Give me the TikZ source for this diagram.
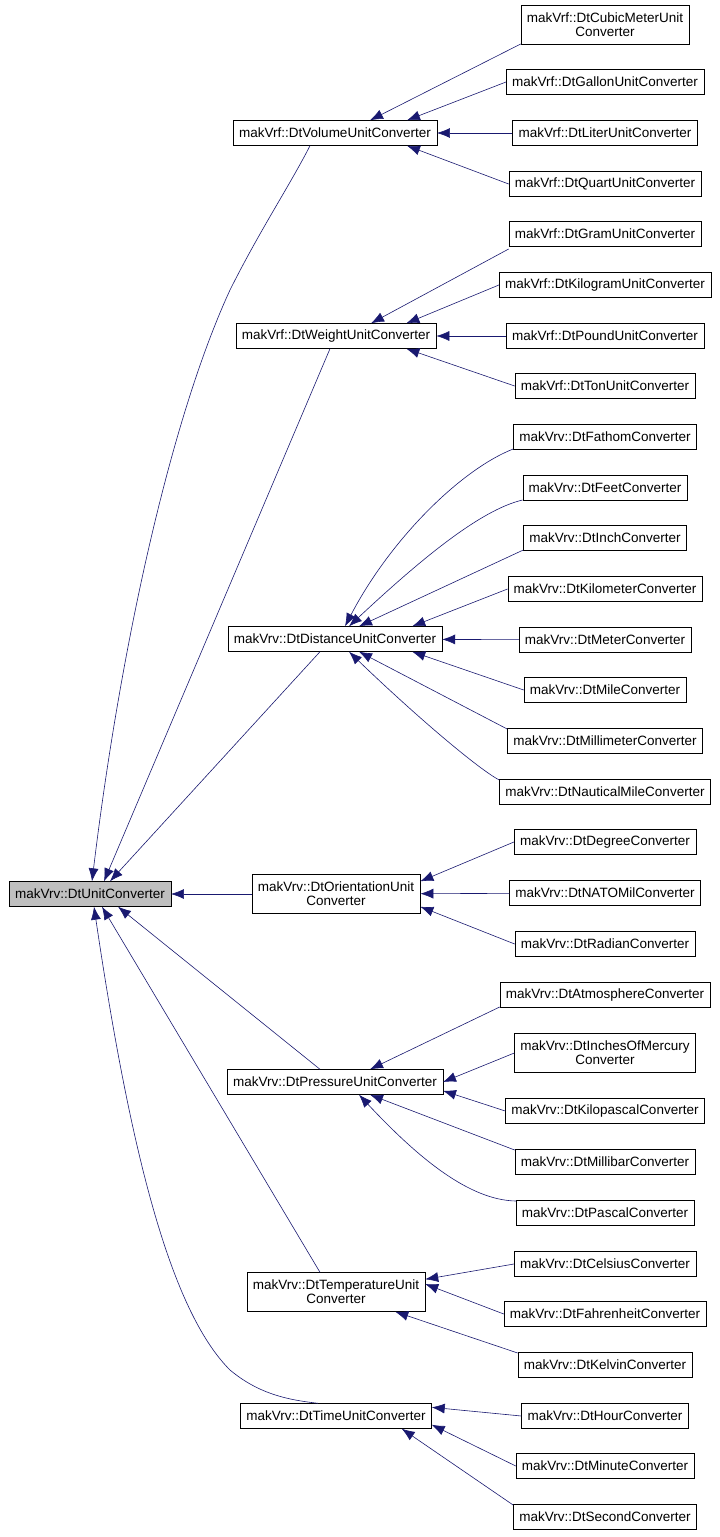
\documentclass[tikz,border=0pt]{standalone}
\usepackage{fontspec}
\setmainfont{Liberation Sans}
\usetikzlibrary{arrows.meta}
\definecolor{edgeblue}{HTML}{191970}
\begin{document}
\begin{tikzpicture}
[
x=1pt, y=-1pt,
every node/.style={font=\fontsize{13.5}{14}\selectfont},
Class/.style={rectangle, draw=black, fill=white, inner xsep=6pt, inner ysep=0pt, minimum height=25pt, align=center},
Root/.style={Class, fill=black!25},
Edge/.style={<-, draw=edgeblue, >={Latex[length=13pt, width=10pt]}, semithick}
]
\useasboundingbox (0,0) rectangle (720,1537);

\node[Root] (unit) at (90,894) {makVrv::DtUnitConverter};

\node[Class] (volume) at (335,133) {makVrf::DtVolumeUnitConverter};
\node[Class] (weight) at (336,336) {makVrf::DtWeightUnitConverter};
\node[Class] (distance) at (335,639) {makVrv::DtDistanceUnitConverter};
\node[Class, minimum height=39pt] (orientation) at (336,894) {makVrv::DtOrientationUnit\\Converter};
\node[Class] (pressure) at (335,1082) {makVrv::DtPressureUnitConverter};
\node[Class, minimum height=39pt] (temperature) at (336,1292) {makVrv::DtTemperatureUnit\\Converter};
\node[Class] (time) at (336,1416) {makVrv::DtTimeUnitConverter};

% volume
\node[Class, minimum height=39pt] (cubic) at (605,25) {makVrf::DtCubicMeterUnit\\Converter};
\node[Class] (gallon) at (605,82) {makVrf::DtGallonUnitConverter};
\node[Class] (liter) at (605,133) {makVrf::DtLiterUnitConverter};
\node[Class] (quart) at (605,184) {makVrf::DtQuartUnitConverter};
% weight
\node[Class] (gram) at (605,234) {makVrf::DtGramUnitConverter};
\node[Class] (kilogram) at (605,285) {makVrf::DtKilogramUnitConverter};
\node[Class] (pound) at (605,336) {makVrf::DtPoundUnitConverter};
\node[Class] (ton) at (605,386) {makVrf::DtTonUnitConverter};
% distance
\node[Class] (fathom) at (605,437) {makVrv::DtFathomConverter};
\node[Class] (feet) at (605,488) {makVrv::DtFeetConverter};
\node[Class] (inch) at (605,538) {makVrv::DtInchConverter};
\node[Class] (kilometer) at (605,589) {makVrv::DtKilometerConverter};
\node[Class] (meter) at (605,640) {makVrv::DtMeterConverter};
\node[Class] (mile) at (605,690) {makVrv::DtMileConverter};
\node[Class] (millimeter) at (605,741) {makVrv::DtMillimeterConverter};
\node[Class] (nautical) at (605,792) {makVrv::DtNauticalMileConverter};
% orientation
\node[Class] (degree) at (605,842) {makVrv::DtDegreeConverter};
\node[Class] (natomil) at (605,893) {makVrv::DtNATOMilConverter};
\node[Class] (radian) at (605,944) {makVrv::DtRadianConverter};
% pressure
\node[Class] (atmosphere) at (605,995) {makVrv::DtAtmosphereConverter};
\node[Class, minimum height=39pt] (mercury) at (605,1053) {makVrv::DtInchesOfMercury\\Converter};
\node[Class] (kilopascal) at (605,1111) {makVrv::DtKilopascalConverter};
\node[Class] (millibar) at (605,1162) {makVrv::DtMillibarConverter};
\node[Class] (pascal) at (605,1213) {makVrv::DtPascalConverter};
% temperature
\node[Class] (celsius) at (605,1264) {makVrv::DtCelsiusConverter};
\node[Class] (fahrenheit) at (605,1314) {makVrv::DtFahrenheitConverter};
\node[Class] (kelvin) at (605,1365) {makVrv::DtKelvinConverter};
% time
\node[Class] (hour) at (605,1416) {makVrv::DtHourConverter};
\node[Class] (minute) at (605,1466) {makVrv::DtMinuteConverter};
\node[Class] (second) at (605,1517) {makVrv::DtSecondConverter};

% edges to the root
\draw[Edge] ([xshift=2pt]unit.north) .. controls (120,650) and (170,420) .. (230,290) .. controls (260,230) and (290,185) .. ([xshift=-25pt]volume.south);
\draw[Edge] ([xshift=14pt]unit.north) -- ([xshift=-6pt]weight.south);
\draw[Edge] ([xshift=20pt]unit.north) -- ([xshift=-15pt]distance.south);
\draw[Edge] (unit) -- (orientation);
\draw[Edge] ([xshift=28pt]unit.south) -- ([xshift=-15pt]pressure.north);
\draw[Edge] ([xshift=12pt]unit.south) -- ([xshift=-16pt]temperature.north);
\draw[Edge] ([xshift=4pt]unit.south) .. controls (130,1150) and (170,1310) .. (230,1370) .. controls (260,1395) and (290,1400) .. ([xshift=-18pt]time.north);

% volume
\draw[Edge] ([xshift=35pt]volume.north) -- (cubic.west |- 0,44);
\draw[Edge] ([xshift=-30pt]volume.north east) -- (gallon.west);
\draw[Edge] (volume) -- (liter);
\draw[Edge] ([xshift=-30pt]volume.south east) -- (quart.west);
% weight
\draw[Edge] ([xshift=35pt]weight.north) -- (gram.west |- 0,249);
\draw[Edge] ([xshift=-30pt]weight.north east) -- (kilogram.west);
\draw[Edge] (weight) -- (pound);
\draw[Edge] ([xshift=-30pt]weight.south east) -- (ton.west);
% distance
\draw[Edge] ([xshift=10pt]distance.north) .. controls (390,540) and (460,470) .. (fathom.west |- 0,449);
\draw[Edge] ([xshift=14pt]distance.north) .. controls (420,560) and (480,510) .. (feet.west |- 0,500);
\draw[Edge] ([xshift=24pt]distance.north) -- (inch.west |- 0,550);
\draw[Edge] ([xshift=-30pt]distance.north east) -- (kilometer.west);
\draw[Edge] (distance) -- (meter);
\draw[Edge] ([xshift=-30pt]distance.south east) -- (mile.west);
\draw[Edge] ([xshift=24pt]distance.south) -- (millimeter.west |- 0,729);
\draw[Edge] ([xshift=14pt]distance.south) .. controls (420,720) and (480,770) .. (nautical.west |- 0,780);
% orientation
\draw[Edge] ([yshift=-7pt]orientation.north east) -- (degree.west);
\draw[Edge] (orientation) -- (natomil);
\draw[Edge] ([yshift=7pt]orientation.south east) -- (radian.west);
% pressure
\draw[Edge] ([xshift=35pt]pressure.north) -- (atmosphere.west |- 0,1007);
\draw[Edge] (pressure.east) -- (mercury.west);
\draw[Edge] ([yshift=4pt]pressure.south east) -- (kilopascal.west);
\draw[Edge] ([xshift=35pt]pressure.south) -- (millibar.west |- 0,1150);
\draw[Edge] ([xshift=24pt]pressure.south) .. controls (420,1160) and (470,1200) .. (pascal.west |- 0,1201);
% temperature
\draw[Edge] ([yshift=-7pt]temperature.north east) -- (celsius.west);
\draw[Edge] ([yshift=8pt]temperature.east) -- (fahrenheit.west);
\draw[Edge] ([xshift=-30pt]temperature.south east) -- (kelvin.west |- 0,1353);
% time
\draw[Edge] ([yshift=-4pt]time.north east) -- (hour.west);
\draw[Edge] ([yshift=4pt]time.south east) -- (minute.west);
\draw[Edge] ([xshift=-30pt]time.south east) -- (second.west |- 0,1505);
\end{tikzpicture}
\end{document}
